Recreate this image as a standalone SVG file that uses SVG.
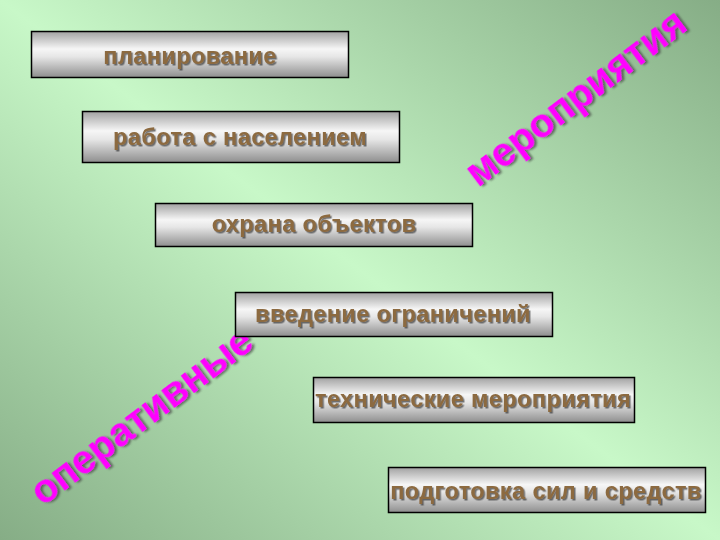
<svg xmlns="http://www.w3.org/2000/svg" width="720" height="540" viewBox="0 0 720 540">
  <defs>
    <linearGradient id="bg" x1="1" y1="0" x2="0" y2="1">
      <stop offset="0" stop-color="#86ad86"/>
      <stop offset="0.5" stop-color="#c8f8c8"/>
      <stop offset="1" stop-color="#86ad86"/>
    </linearGradient>
    <linearGradient id="box" x1="0" y1="0" x2="0" y2="1">
      <stop offset="0" stop-color="#a2a2a2"/>
      <stop offset="0.38" stop-color="#f6f6f6"/>
      <stop offset="0.55" stop-color="#e6e6e6"/>
      <stop offset="1" stop-color="#8e8e8e"/>
    </linearGradient>
    <filter id="ts" x="-10%" y="-30%" width="120%" height="160%">
      <feDropShadow dx="1.5" dy="1.5" stdDeviation="0.6" flood-color="#3a3a3a" flood-opacity="0.7"/>
    </filter>
    <filter id="bs" x="-10%" y="-30%" width="120%" height="160%">
      <feDropShadow dx="2" dy="2" stdDeviation="0.8" flood-color="#404040" flood-opacity="0.7"/>
    </filter>
  </defs>
  <style>
    .box rect { fill: url(#box); stroke: #000; stroke-width: 1.5; }
    .box text { font-family: "Liberation Sans", Arial, sans-serif; font-weight: bold; font-size: 23.5px; letter-spacing: 0.4px; fill: #8c6a40; text-anchor: middle; filter: url(#ts); }
    .big { font-family: "Liberation Sans", Arial, sans-serif; font-weight: bold; font-size: 40px; fill: #ff00ff; filter: url(#bs); }
  </style>
  <rect x="0" y="0" width="720" height="540" fill="url(#bg)"/>
  <text class="big" transform="translate(478,188) rotate(-37)">мероприятия</text>
  <text class="big" transform="translate(43,507) rotate(-37)">оперативные</text>
  <g id="n1" class="box">
    <rect x="31.5" y="31.5" width="317" height="46"/>
    <text x="190" y="64">планирование</text>
  </g>
  <g id="n2" class="box">
    <rect x="82.5" y="111.5" width="317" height="51"/>
    <text x="240" y="145">работа с населением</text>
  </g>
  <g id="n3" class="box">
    <rect x="155.5" y="203.5" width="317" height="43"/>
    <text x="314" y="232">охрана объектов</text>
  </g>
  <g id="n4" class="box">
    <rect x="235.5" y="292.5" width="317" height="44"/>
    <text x="393" y="322">введение ограничений</text>
  </g>
  <g id="n5" class="box">
    <rect x="313.5" y="377.5" width="321" height="45"/>
    <text x="473" y="407">технические мероприятия</text>
  </g>
  <g id="n6" class="box">
    <rect x="388.5" y="467.5" width="317" height="45"/>
    <text x="546" y="499">подготовка сил и средств</text>
  </g>
  <g id="connectors"/>
</svg>
